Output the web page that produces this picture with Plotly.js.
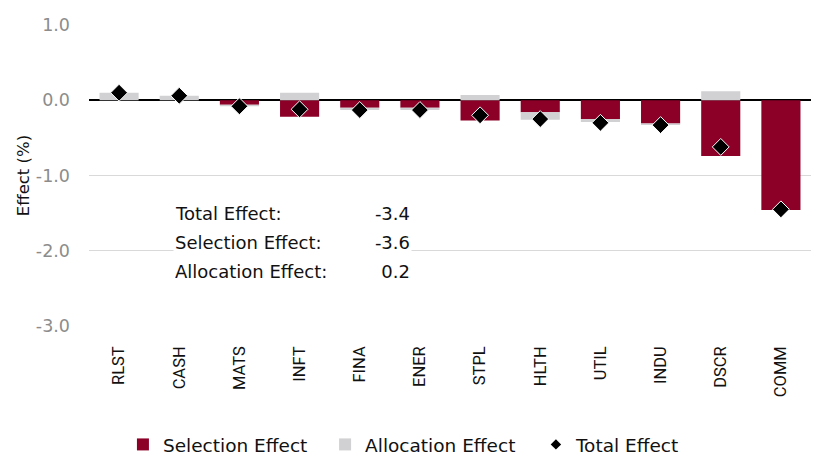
<!DOCTYPE html>
<html>
<head>
<meta charset="utf-8">
<script src="https://cdn.plot.ly/plotly-3.0.1.min.js"></script>
<style>html,body{margin:0;padding:0;background:#fff;}#chart{width:819px;height:468px;}</style>
</head>
<body>
<div id="chart"></div>
<script>
const categories = ["RLST","CASH","MATS","INFT","FINA","ENER","STPL","HLTH","UTIL","INDU","DSCR","COMM"];
const selectionEffect = [0.0, 0.0, -0.06, -0.22, -0.1, -0.1, -0.27, -0.16, -0.25, -0.31, -0.74, -1.46];
const allocationEffect = [0.1, 0.06, -0.02, 0.1, -0.03, -0.03, 0.07, -0.1, -0.04, -0.02, 0.12, 0.0];
const totalEffect = [0.1, 0.06, -0.08, -0.12, -0.13, -0.13, -0.2, -0.25, -0.3, -0.33, -0.62, -1.45];
const yTickVals = [1, 0, -1, -2, -3];
const yTickText = ["1.0", "0.0", "-1.0", "-2.0", "-3.0"];
const summaryLabels = ["Total Effect:", "Selection Effect:", "Allocation Effect:"];
const summaryValues = ["-3.4", "-3.6", "0.2"];
const summaryY = [-1.5, -1.885, -2.27];

const SANS = "'DejaVu Sans', sans-serif";
const NARROW = "'Liberation Sans Narrow', Roboto, sans-serif";
const RED = "#8C0028", GRAY = "#D1D1D3";

const traces = [
  {type:"bar", name:"Selection Effect", x:categories, y:selectionEffect,
   marker:{color:RED}, width:0.65, hoverinfo:"skip", legend:"legend"},
  {type:"bar", name:"Allocation Effect", x:categories, y:allocationEffect,
   marker:{color:GRAY}, width:0.65, hoverinfo:"skip", legend:"legend2"},
  {type:"scatter", mode:"markers", name:"Total Effect", x:categories, y:totalEffect,
   marker:{symbol:"diamond", size:13, color:"#000", line:{color:"#fff", width:1}},
   showlegend:false},
  {type:"scatter", mode:"markers", name:"Total Effect", x:[null], y:[null],
   marker:{symbol:"diamond", size:8, color:"#000"}, showlegend:true, legend:"legend3"}
];

const annotations = [];
summaryLabels.forEach((t,i)=>{
  annotations.push({xref:"paper", yref:"y", x:0.116, y:summaryY[i], xanchor:"left", yanchor:"middle",
    text:t, showarrow:false, align:"left", width:190, bgcolor:"#fff",
    font:{family:SANS, size:18, color:"#111"}});
  annotations.push({xref:"paper", yref:"y", x:0.447, y:summaryY[i], xanchor:"right", yanchor:"middle",
    text:summaryValues[i], showarrow:false, align:"right", width:48, bgcolor:"#fff",
    font:{family:SANS, size:18, color:"#111"}});
});

function leg(x){
  return {orientation:"h", x:x, xanchor:"left", y:-0.395, yanchor:"middle",
    font:{family:SANS, size:18.5, color:"#111"}, itemwidth:30, bgcolor:"rgba(0,0,0,0)"};
}

const layout = {
  width:819, height:468,
  margin:{l:89, r:8, t:25, b:142, autoexpand:false},
  paper_bgcolor:"#fff", plot_bgcolor:"#fff",
  barmode:"relative",
  font:{family:SANS},
  showlegend:true,
  legend:leg(0.047), legend2:leg(0.327), legend3:leg(0.619),
  xaxis:{type:"category", range:[-0.5, 11.5], automargin:false, tickangle:-90, showgrid:false, showline:false, ticks:"",
    ticklabelstandoff:16, tickfont:{family:NARROW, size:16.5, color:"#111"}, fixedrange:true},
  yaxis:{range:[-3,1], automargin:false, tickmode:"array", tickvals:yTickVals, ticktext:yTickText,
    showgrid:true, gridcolor:"#D9D9D9", gridwidth:1,
    zeroline:true, zerolinecolor:"#000", zerolinewidth:2, showline:false, ticks:"",
    ticklabelstandoff:18, tickfont:{family:SANS, size:17.5, color:"#8C8C8C"},
    title:{text:"Effect (%)", font:{family:SANS, size:16.5, color:"#111"}, standoff:2}},
  annotations:annotations
};

Plotly.newPlot("chart", traces, layout, {displayModeBar:false, staticPlot:true});
</script>
</body>
</html>
